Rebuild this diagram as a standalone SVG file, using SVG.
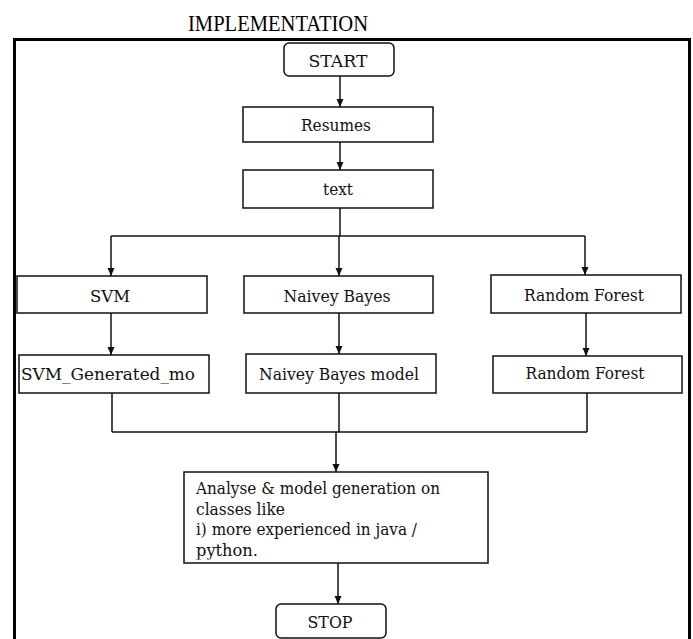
<svg xmlns="http://www.w3.org/2000/svg" width="693" height="639" viewBox="0 0 693 639">
<style>
.box{fill:#fff;stroke:#111;stroke-width:1.5}
.t{font-family:"DejaVu Serif","Liberation Serif",serif;font-size:17px;fill:#111;text-anchor:middle}
.tl{font-family:"DejaVu Serif","Liberation Serif",serif;font-size:17px;fill:#111}
.c{fill:none;stroke:#111;stroke-width:1.5}
</style>
<defs>
<marker id="ah" viewBox="0 0 8 8" refX="8" refY="4" markerWidth="8" markerHeight="8" markerUnits="userSpaceOnUse" orient="auto">
<path d="M0,0.5 L8,4 L0,7.5 Z" fill="#111"/>
</marker>
<clipPath id="clipA"><rect x="185" y="473" width="302" height="86.5"/></clipPath>
</defs>
<rect width="693" height="639" fill="#fff"/>
<text x="278" y="31" font-family="Liberation Serif, serif" font-size="23" text-anchor="middle" textLength="180" lengthAdjust="spacingAndGlyphs" fill="#000">IMPLEMENTATION</text>
<path d="M14.5,639 V39.5 H689.5 V639" fill="none" stroke="#000" stroke-width="3"/>
<g id="connectors">
<path class="c" d="M340,76 V107" marker-end="url(#ah)"/>
<path class="c" d="M340,142 V170" marker-end="url(#ah)"/>
<path class="c" d="M340,208 V236"/>
<path class="c" d="M111,236 H585"/>
<path class="c" d="M111,236 V276" marker-end="url(#ah)"/>
<path class="c" d="M339,236 V276" marker-end="url(#ah)"/>
<path class="c" d="M585,236 V275" marker-end="url(#ah)"/>
<path class="c" d="M111,313 V355" marker-end="url(#ah)"/>
<path class="c" d="M339,313 V354" marker-end="url(#ah)"/>
<path class="c" d="M586,313 V356" marker-end="url(#ah)"/>
<path class="c" d="M112,393 V432"/>
<path class="c" d="M339,393 V432"/>
<path class="c" d="M587,393 V432"/>
<path class="c" d="M112,432 H587"/>
<path class="c" d="M336,432 V472" marker-end="url(#ah)"/>
<path class="c" d="M338,563 V604" marker-end="url(#ah)"/>
</g>
<g id="start">
<rect class="box" x="284" y="43" width="110" height="33" rx="5"/>
<text class="t" x="338" y="67" textLength="59" lengthAdjust="spacingAndGlyphs">START</text>
</g>
<g id="resumes">
<rect class="box" x="243" y="107" width="190" height="35"/>
<text class="t" x="336" y="131" textLength="70" lengthAdjust="spacingAndGlyphs">Resumes</text>
</g>
<g id="text">
<rect class="box" x="243" y="170" width="190" height="38"/>
<text class="t" x="338" y="195" textLength="30" lengthAdjust="spacingAndGlyphs">text</text>
</g>
<g id="svm">
<rect class="box" x="17" y="276" width="190" height="37"/>
<text class="t" x="110" y="302" textLength="40" lengthAdjust="spacingAndGlyphs">SVM</text>
</g>
<g id="naivey">
<rect class="box" x="244" y="276" width="189" height="37"/>
<text class="t" x="337" y="302" textLength="107" lengthAdjust="spacingAndGlyphs">Naivey Bayes</text>
</g>
<g id="rf">
<rect class="box" x="491" y="275" width="190" height="38"/>
<text class="t" x="584" y="301" textLength="120" lengthAdjust="spacingAndGlyphs">Random Forest</text>
</g>
<g id="svm-model">
<rect class="box" x="19" y="355" width="190" height="38"/>
<text class="t" x="108" y="380" textLength="174" lengthAdjust="spacingAndGlyphs">SVM_Generated_mo</text>
</g>
<g id="naivey-model">
<rect class="box" x="246" y="354" width="190" height="39"/>
<text class="t" x="339" y="380" textLength="160" lengthAdjust="spacingAndGlyphs">Naivey Bayes model</text>
</g>
<g id="rf-model">
<rect class="box" x="493" y="356" width="189" height="37"/>
<text class="t" x="585" y="379" textLength="119" lengthAdjust="spacingAndGlyphs">Random Forest</text>
</g>
<g id="analyse">
<rect class="box" x="184" y="472" width="304" height="91"/>
<g clip-path="url(#clipA)">
<text class="tl" x="196" y="494" textLength="244" lengthAdjust="spacingAndGlyphs">Analyse &amp; model generation on</text>
<text class="tl" x="196" y="515" textLength="89" lengthAdjust="spacingAndGlyphs">classes like</text>
<text class="tl" x="196" y="535" textLength="221" lengthAdjust="spacingAndGlyphs">i) more experienced in java /</text>
<text class="tl" x="196" y="556" textLength="62" lengthAdjust="spacingAndGlyphs">python.</text>
</g>
</g>
<g id="stop">
<rect class="box" x="276" y="604" width="110" height="34" rx="5"/>
<text class="t" x="330" y="628" textLength="45" lengthAdjust="spacingAndGlyphs">STOP</text>
</g>
</svg>
